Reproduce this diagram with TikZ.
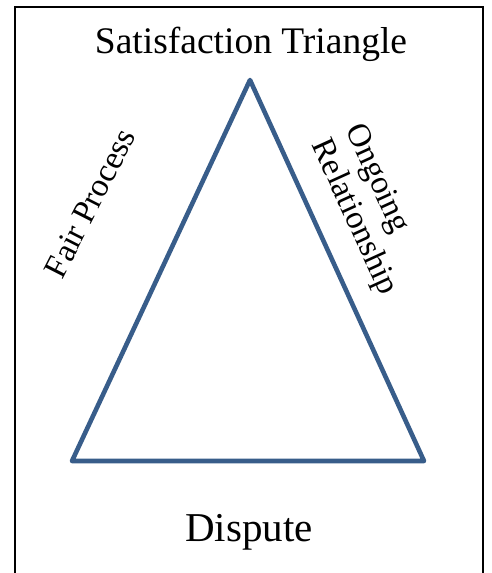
\documentclass[tikz,border=0pt]{standalone}
\usepackage{fontspec}
\setmainfont{Liberation Serif}
\definecolor{triblue}{HTML}{385D8A}
\begin{document}
\begin{tikzpicture}[x=1pt,y=-1pt,
  frame/.style={draw=black,line width=1.4pt},
  tri/.style={draw=triblue,line width=4.6pt,line join=round},
  lbl/.style={inner sep=0pt,font=\fontsize{33}{37}\selectfont}]
\useasboundingbox (0,0) rectangle (491,573);
\draw[frame] (15,7) rectangle (483,590);
\coordinate (A) at (250,80);
\coordinate (B) at (72,461);
\coordinate (C) at (424,461);
\draw[tri] (A) -- (B) -- (C) -- cycle;
\node[inner sep=0pt,anchor=base,font=\fontsize{37.5}{40}\selectfont] (title) at (251,53) {Satisfaction Triangle};
\node[inner sep=0pt,anchor=base,font=\fontsize{41}{44}\selectfont] (dispute) at (249,541) {Dispute};
\node[lbl,rotate=63] (fair) at (90,203) {Fair Process};
\node[lbl,rotate=-65.5,align=left] (ongoing) at (370,210) {Ongoing\\Relationship};
\end{tikzpicture}
\end{document}
